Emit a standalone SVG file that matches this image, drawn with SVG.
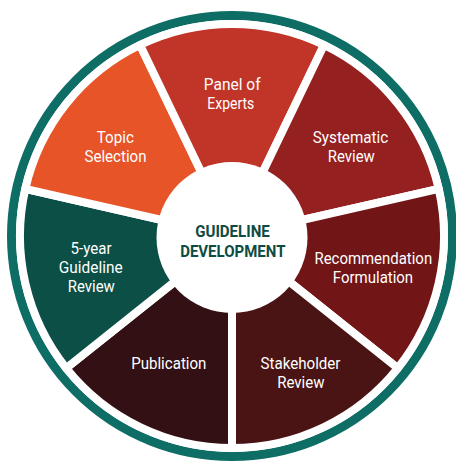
<svg xmlns="http://www.w3.org/2000/svg" width="456" height="462" viewBox="0 0 456 462">
<style>
.seg{stroke:#ffffff;stroke-width:8;stroke-linejoin:round}
.lbl{font-family:Roboto,"Liberation Sans",sans-serif;font-size:16px;fill:#ffffff;text-anchor:middle}
.ctr{font-family:Roboto,"Liberation Sans",sans-serif;font-size:17px;font-weight:bold;fill:#0e4b42;text-anchor:middle}
</style>
<rect width="456" height="462" fill="#ffffff"/>
<circle id="ring" cx="232" cy="236" r="220.5" fill="none" stroke="#0e6e66" stroke-width="9"/>
<g id="publication">
<path class="seg" fill="#331013" d="M232,236 L232,448 A212,212 0 0,1 66.25,368.18 Z"/>
<text class="lbl" x="168.8" y="369" textLength="75.3" lengthAdjust="spacingAndGlyphs">Publication</text>
</g>
<g id="five-year-review">
<path class="seg" fill="#0b4f46" d="M232,236 L66.25,368.18 A212,212 0 0,1 25.31,188.83 Z"/>
<text class="lbl" x="91" y="254.3" textLength="41" lengthAdjust="spacingAndGlyphs">5-year</text>
<text class="lbl" x="90.7" y="273.3" textLength="63.7" lengthAdjust="spacingAndGlyphs">Guideline</text>
<text class="lbl" x="91.3" y="292.3" textLength="47" lengthAdjust="spacingAndGlyphs">Review</text>
</g>
<g id="topic-selection">
<path class="seg" fill="#e65428" d="M232,236 L25.31,188.83 A212,212 0 0,1 140.02,44.99 Z"/>
<text class="lbl" x="115.3" y="142.7" textLength="37" lengthAdjust="spacingAndGlyphs">Topic</text>
<text class="lbl" x="115.5" y="161.7" textLength="62" lengthAdjust="spacingAndGlyphs">Selection</text>
</g>
<g id="panel-of-experts">
<path class="seg" fill="#c13428" d="M232,236 L140.02,44.99 A212,212 0 0,1 323.98,44.99 Z"/>
<text class="lbl" x="232.2" y="90" textLength="56.7" lengthAdjust="spacingAndGlyphs">Panel of</text>
<text class="lbl" x="230.8" y="109" textLength="47" lengthAdjust="spacingAndGlyphs">Experts</text>
</g>
<g id="systematic-review">
<path class="seg" fill="#952020" d="M232,236 L323.98,44.99 A212,212 0 0,1 438.69,188.83 Z"/>
<text class="lbl" x="350.5" y="142.7" textLength="75.3" lengthAdjust="spacingAndGlyphs">Systematic</text>
<text class="lbl" x="351.3" y="161.7" textLength="47" lengthAdjust="spacingAndGlyphs">Review</text>
</g>
<g id="recommendation-formulation">
<path class="seg" fill="#721517" d="M232,236 L438.69,188.83 A212,212 0 0,1 397.75,368.18 Z"/>
<text class="lbl" x="373.3" y="264" textLength="117.7" lengthAdjust="spacingAndGlyphs">Recommendation</text>
<text class="lbl" x="373" y="283" textLength="80.3" lengthAdjust="spacingAndGlyphs">Formulation</text>
</g>
<g id="stakeholder-review">
<path class="seg" fill="#4a1414" d="M232,236 L397.75,368.18 A212,212 0 0,1 232,448 Z"/>
<text class="lbl" x="300.5" y="369" textLength="80" lengthAdjust="spacingAndGlyphs">Stakeholder</text>
<text class="lbl" x="300.8" y="387.7" textLength="47.3" lengthAdjust="spacingAndGlyphs">Review</text>
</g>
<g id="center">
<circle cx="232" cy="237.5" r="75.5" fill="#ffffff"/>
<text class="ctr" x="232.5" y="236.7" textLength="74.6" lengthAdjust="spacingAndGlyphs">GUIDELINE</text>
<text class="ctr" x="232.8" y="256.7" textLength="105.3" lengthAdjust="spacingAndGlyphs">DEVELOPMENT</text>
</g>
<g id="connectors"/>
</svg>
